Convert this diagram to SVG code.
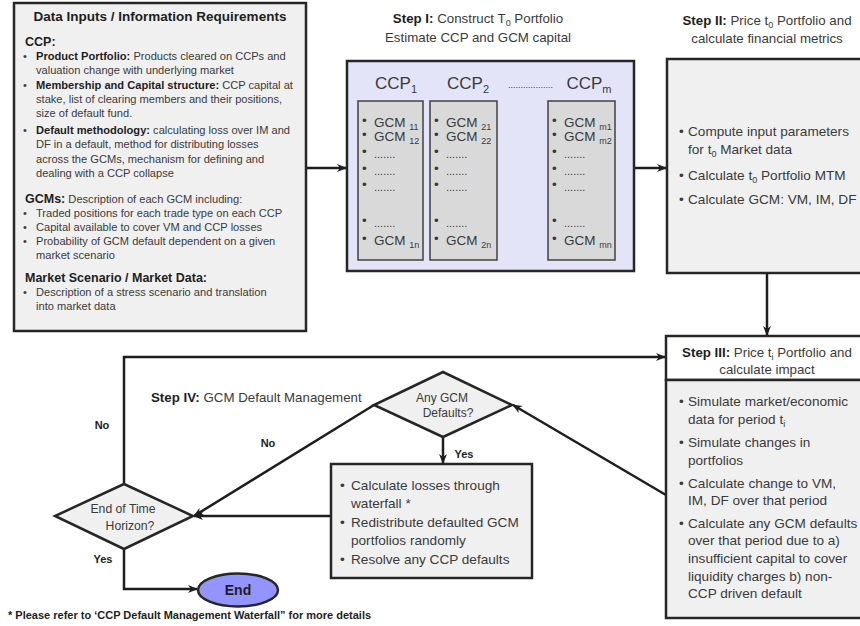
<svg xmlns="http://www.w3.org/2000/svg" width="860" height="626" viewBox="0 0 860 626">
<defs>
<style>
text{font-family:"Liberation Sans",Arial,sans-serif;fill:#3a3a3a}
.b{font-weight:bold;fill:#1e1e1e}
.box{stroke:#262626;stroke-width:2.5}
.sub{fill:#d9d9d9;stroke:#404040;stroke-width:1.5}
.gray{fill:#f0f0f0}
.conn{stroke:#1e1e1e;stroke-width:2.5;fill:none}
.lt{font-size:11.1px}
.hd{font-size:12.5px}
.st{font-size:13.3px}
.bd{font-size:13.6px}
.gc{font-size:13.5px}
.dt{font-size:11px}
.lb{font-size:11px;font-weight:bold;fill:#1e1e1e}
</style>
<marker id="ah" markerWidth="10" markerHeight="8" refX="9" refY="4" orient="auto" markerUnits="userSpaceOnUse">
<path d="M0,0 L10,4 L0,8 L3,4 z" fill="#1e1e1e"/>
</marker>
</defs>
<rect width="860" height="626" fill="#ffffff"/>

<g id="connectors">
<line class="conn" x1="306" y1="168" x2="346" y2="168" marker-end="url(#ah)"/>
<line class="conn" x1="634" y1="168" x2="666" y2="168" marker-end="url(#ah)"/>
<line class="conn" x1="767" y1="273" x2="767" y2="335" marker-end="url(#ah)"/>
<polyline class="conn" points="124,484 124,357 665,357" marker-end="url(#ah)"/>
<line class="conn" x1="666" y1="495" x2="513" y2="405" marker-end="url(#ah)"/>
<line class="conn" x1="443" y1="437" x2="443" y2="463" marker-end="url(#ah)"/>
<line class="conn" x1="374" y1="405" x2="194" y2="516" marker-end="url(#ah)"/>
<line class="conn" x1="331" y1="516" x2="194" y2="516" marker-end="url(#ah)"/>
<polyline class="conn" points="124,549 124,589 197,589" marker-end="url(#ah)"/>
<line x1="513" y1="191" x2="548" y2="191" stroke="#1e1e1e" stroke-width="2" stroke-dasharray="2 2"/>
<text class="lb" x="102" y="429" text-anchor="middle">No</text>
<text class="lb" x="268" y="447" text-anchor="middle">No</text>
<text class="lb" x="464" y="458" text-anchor="middle">Yes</text>
<text class="lb" x="103" y="563" text-anchor="middle">Yes</text>
</g>

<g id="data-inputs">
<rect class="box gray" x="14" y="3" width="292" height="328" fill="#f2f2f2"/>
<text class="b" x="160" y="21" text-anchor="middle" font-size="13.5">Data Inputs / Information Requirements</text>
<text class="b hd" x="25" y="46">CCP:</text>
<g class="lt">
<text x="23" y="59.5">•</text><text x="36" y="59.5"><tspan class="b">Product Portfolio:</tspan> Products cleared on CCPs and</text>
<text x="36" y="74">valuation change with underlying market</text>
<text x="23" y="88.5">•</text><text x="36" y="88.5"><tspan class="b">Membership and Capital structure:</tspan> CCP capital at</text>
<text x="36" y="103">stake, list of clearing members and their positions,</text>
<text x="36" y="117">size of default fund.</text>
<text x="23" y="133.5">•</text><text x="36" y="133.5"><tspan class="b">Default methodology:</tspan> calculating loss over IM and</text>
<text x="36" y="148">DF in a default, method for distributing losses</text>
<text x="36" y="162.5">across the GCMs, mechanism for defining and</text>
<text x="36" y="177">dealing with a CCP collapse</text>
<text x="25" y="203"><tspan class="b hd">GCMs:</tspan>  Description of each GCM including:</text>
<text x="23" y="217">•</text><text x="36" y="217">Traded positions for each trade type on each CCP</text>
<text x="23" y="231">•</text><text x="36" y="231">Capital available to cover VM and CCP losses</text>
<text x="23" y="245">•</text><text x="36" y="245">Probability of GCM default dependent on a given</text>
<text x="36" y="259">market scenario</text>
<text class="b hd" x="25" y="282">Market Scenario / Market Data:</text>
<text x="23" y="296">•</text><text x="36" y="296">Description of a stress scenario and translation</text>
<text x="36" y="310">into market data</text>
</g>
</g>

<g id="step1">
<text class="st" x="478" y="23" text-anchor="middle"><tspan class="b">Step I:</tspan> Construct T<tspan font-size="9" dy="3">0</tspan><tspan dy="-3"> Portfolio</tspan></text>
<text class="st" x="478" y="42" text-anchor="middle">Estimate CCP and GCM capital</text>
<rect class="box" x="347" y="61" width="287" height="210" fill="#e4e4f8"/>
<text x="396" y="89" text-anchor="middle" font-size="17">CCP<tspan font-size="11" dy="4">1</tspan></text>
<text x="468" y="89" text-anchor="middle" font-size="17">CCP<tspan font-size="11" dy="4">2</tspan></text>
<text x="589" y="89" text-anchor="middle" font-size="17">CCP<tspan font-size="11" dy="4">m</tspan></text>
<text x="508" y="88" font-size="9">..................</text>
</g>

<g id="ccp1">
<rect class="sub" x="358" y="101" width="65" height="159"/>
<g class="gc">
<text x="362" y="125">•</text><text x="374" y="127">GCM <tspan font-size="9" dy="3">11</tspan></text>
<text x="362" y="139">•</text><text x="374" y="141">GCM <tspan font-size="9" dy="3">12</tspan></text>
<text x="362" y="156">•</text><text class="dt" x="374" y="158">.......</text>
<text x="362" y="173">•</text><text class="dt" x="374" y="175">.......</text>
<text x="362" y="189">•</text><text class="dt" x="374" y="191">.......</text>
<text x="362" y="225">•</text><text class="dt" x="374" y="227">.......</text>
<text x="362" y="243">•</text><text x="374" y="245">GCM <tspan font-size="9" dy="3">1n</tspan></text>
</g>
</g>

<g id="ccp2">
<rect class="sub" x="430" y="101" width="67" height="159"/>
<g class="gc">
<text x="434" y="125">•</text><text x="446" y="127">GCM <tspan font-size="9" dy="3">21</tspan></text>
<text x="434" y="139">•</text><text x="446" y="141">GCM <tspan font-size="9" dy="3">22</tspan></text>
<text x="434" y="156">•</text><text class="dt" x="446" y="158">.......</text>
<text x="434" y="173">•</text><text class="dt" x="446" y="175">.......</text>
<text x="434" y="189">•</text><text class="dt" x="446" y="191">.......</text>
<text x="434" y="225">•</text><text class="dt" x="446" y="227">.......</text>
<text x="434" y="243">•</text><text x="446" y="245">GCM <tspan font-size="9" dy="3">2n</tspan></text>
</g>
</g>

<g id="ccpm">
<rect class="sub" x="548" y="101" width="67" height="159"/>
<g class="gc">
<text x="552" y="125">•</text><text x="564" y="127">GCM <tspan font-size="9" dy="3">m1</tspan></text>
<text x="552" y="139">•</text><text x="564" y="141">GCM <tspan font-size="9" dy="3">m2</tspan></text>
<text x="552" y="156">•</text><text class="dt" x="564" y="158">.......</text>
<text x="552" y="173">•</text><text class="dt" x="564" y="175">.......</text>
<text x="552" y="189">•</text><text class="dt" x="564" y="191">.......</text>
<text x="552" y="225">•</text><text class="dt" x="564" y="227">.......</text>
<text x="552" y="243">•</text><text x="564" y="245">GCM <tspan font-size="9" dy="3">mn</tspan></text>
</g>
</g>

<g id="step2">
<text class="st" x="767" y="25" text-anchor="middle"><tspan class="b">Step II:</tspan> Price t<tspan font-size="9" dy="3">0</tspan><tspan dy="-3"> Portfolio and</tspan></text>
<text class="st" x="767" y="43" text-anchor="middle">calculate financial metrics</text>
<rect class="box gray" x="667" y="59" width="200" height="214"/>
<g class="bd">
<text x="679" y="136">•</text><text x="688" y="136">Compute input parameters</text>
<text x="688" y="154">for t<tspan font-size="9" dy="3">0</tspan><tspan dy="-3"> Market data</tspan></text>
<text x="679" y="180">•</text><text x="688" y="180">Calculate t<tspan font-size="9" dy="3">0</tspan><tspan dy="-3"> Portfolio MTM</tspan></text>
<text x="679" y="204">•</text><text x="688" y="204">Calculate GCM: VM, IM, DF</text>
</g>
</g>

<g id="step3">
<rect class="box" x="666" y="336" width="200" height="44" fill="#ffffff"/>
<text class="st" x="767" y="357" text-anchor="middle"><tspan class="b">Step III:</tspan> Price t<tspan font-size="9" dy="3">i</tspan><tspan dy="-3"> Portfolio and</tspan></text>
<text class="st" x="767" y="374" text-anchor="middle">calculate impact</text>
<rect class="box gray" x="666" y="380" width="200" height="238"/>
<g class="bd">
<text x="679" y="406">•</text><text x="688" y="406">Simulate market/economic</text>
<text x="688" y="424">data for period t<tspan font-size="9" dy="3">i</tspan></text>
<text x="679" y="447">•</text><text x="688" y="447">Simulate changes in</text>
<text x="688" y="465">portfolios</text>
<text x="679" y="488">•</text><text x="688" y="488">Calculate change to VM,</text>
<text x="688" y="505">IM, DF over that period</text>
<text x="679" y="528">•</text><text x="688" y="528">Calculate any GCM defaults</text>
<text x="688" y="545">over that period due to a)</text>
<text x="688" y="563">insufficient capital to cover</text>
<text x="688" y="581">liquidity charges b) non-</text>
<text x="688" y="598">CCP driven default</text>
</g>
</g>

<g id="step4-label">
<text class="st" x="151" y="402"><tspan class="b">Step IV:</tspan> GCM Default Management</text>
</g>

<g id="any-defaults">
<polygon class="box gray" points="443,372 512,405 443,437 374,405"/>
<text x="442" y="402" text-anchor="middle" font-size="12" fill="#404040">Any GCM</text>
<text x="448" y="417" text-anchor="middle" font-size="12" fill="#404040">Defaults?</text>
</g>

<g id="default-mgmt">
<rect class="box gray" x="331" y="464" width="201" height="114"/>
<g class="bd">
<text x="340" y="490">•</text><text x="351" y="490">Calculate losses through</text>
<text x="351" y="508">waterfall *</text>
<text x="340" y="527">•</text><text x="351" y="527">Redistribute defaulted GCM</text>
<text x="351" y="545">portfolios randomly</text>
<text x="340" y="564">•</text><text x="351" y="564">Resolve any CCP defaults</text>
</g>
</g>

<g id="end-of-time">
<polygon class="box gray" points="124,484 193,516 124,549 55,516"/>
<text x="123" y="513" text-anchor="middle" font-size="12.2" fill="#404040">End of Time</text>
<text x="130" y="530" text-anchor="middle" font-size="12.2" fill="#404040">Horizon?</text>
</g>

<g id="end">
<ellipse class="box" cx="238" cy="590" rx="40" ry="16.5" fill="#9494ff"/>
<text class="b" x="238" y="595" text-anchor="middle" font-size="14">End</text>
</g>

<text class="lb" x="8" y="619">* Please refer to ‘CCP Default Management Waterfall” for more details</text>
</svg>
